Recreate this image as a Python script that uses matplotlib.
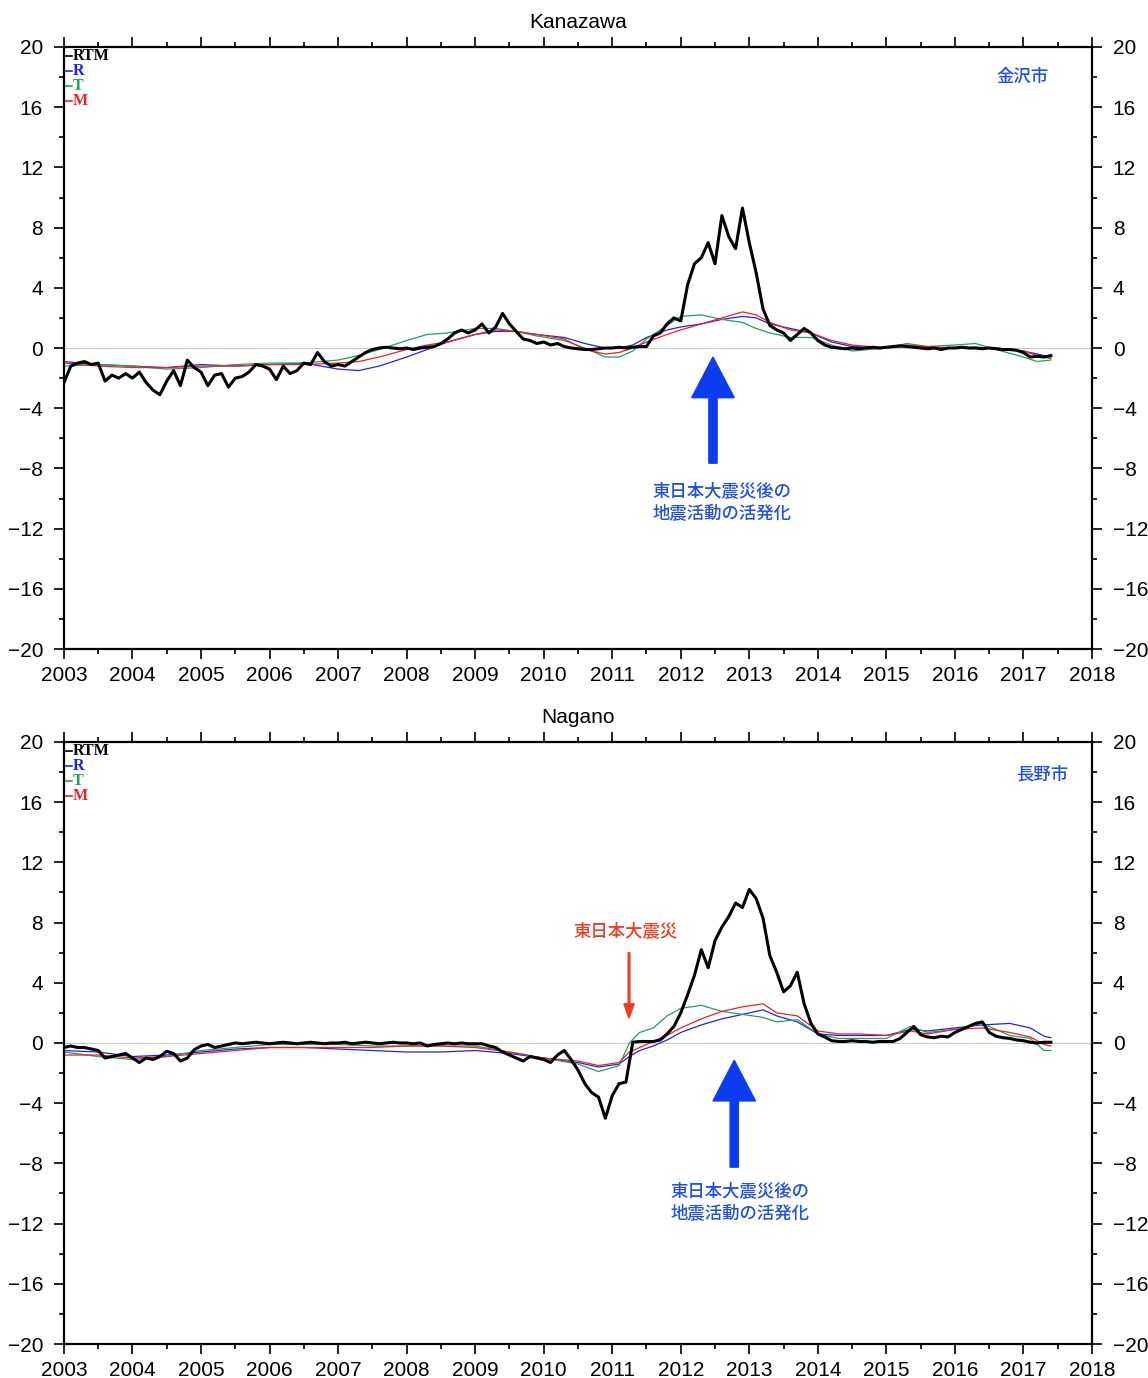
import numpy as np
import matplotlib
matplotlib.use('Agg')
import matplotlib.pyplot as plt
from matplotlib.ticker import MultipleLocator

plt.rcParams['font.family'] = ['Liberation Sans', 'Noto Sans CJK JP', 'DejaVu Sans']

# RTM (black) sampled every 0.1 year from 2003.0
kanazawa_rtm = [
    -2.3, -1.2, -1.0, -0.9, -1.1, -1.0, -2.2, -1.8, -2.0, -1.7,
    -2.0, -1.6, -2.3, -2.8, -3.1, -2.2, -1.5, -2.5, -0.8, -1.3,
    -1.6, -2.5, -1.8, -1.7, -2.6, -2.0, -1.9, -1.6, -1.1, -1.2,
    -1.4, -2.1, -1.2, -1.7, -1.5, -1.0, -1.1, -0.3, -0.9, -1.2,
    -1.1, -1.2, -0.9, -0.6, -0.3, -0.1, 0.0, 0.05, 0.0, -0.05,
    0.0, -0.1, 0.0, 0.05, 0.1, 0.3, 0.6, 1.0, 1.2, 1.0,
    1.2, 1.6, 1.0, 1.4, 2.3, 1.6, 1.1, 0.6, 0.5, 0.3,
    0.4, 0.2, 0.3, 0.1, 0.0, -0.05, -0.1, -0.1, -0.05, 0.0,
    0.0, 0.05, 0.0, 0.05, 0.1, 0.1, 0.8, 1.0, 1.6, 2.0,
    1.8, 4.2, 5.6, 6.0, 7.0, 5.6, 8.8, 7.4, 6.6, 9.3,
    7.0, 5.0, 2.6, 1.5, 1.2, 1.0, 0.5, 0.9, 1.3, 1.0,
    0.5, 0.2, 0.05, 0.0, -0.05, 0.0, -0.05, 0.0, 0.05, 0.0,
    0.05, 0.1, 0.15, 0.1, 0.05, 0.0, -0.05, 0.0, -0.1, 0.0,
    0.0, 0.05, 0.0, 0.0, -0.05, 0.0, -0.05, -0.1, -0.1, -0.15,
    -0.3, -0.6, -0.55, -0.6, -0.5,
]
nagano_rtm = [
    -0.3, -0.2, -0.3, -0.3, -0.4, -0.5, -1.0, -0.9, -0.8, -0.7,
    -1.0, -1.3, -1.0, -1.1, -0.9, -0.55, -0.7, -1.2, -1.0, -0.45,
    -0.2, -0.1, -0.3, -0.2, -0.1, 0.0, -0.05, 0.0, 0.05, 0.0,
    -0.05, 0.0, 0.05, 0.0, -0.05, 0.0, 0.05, 0.0, -0.05, 0.0,
    0.0, 0.05, -0.05, 0.0, 0.05, 0.0, -0.05, 0.0, 0.05, 0.0,
    0.0, -0.05, 0.0, -0.2, -0.1, -0.05, 0.0, -0.05, 0.0, -0.05,
    -0.05, -0.05, -0.2, -0.3, -0.6, -0.8, -1.0, -1.2, -0.9, -1.0,
    -1.1, -1.3, -0.8, -0.5, -1.1, -1.8, -2.7, -3.3, -3.6, -5.0,
    -3.5, -2.7, -2.6, 0.05, 0.1, 0.1, 0.1, 0.2, 0.6, 1.1,
    2.0, 3.2, 4.5, 6.2, 5.0, 6.8, 7.7, 8.4, 9.3, 9.0,
    10.2, 9.6, 8.3, 5.8, 4.7, 3.4, 3.8, 4.7, 2.6, 1.3,
    0.6, 0.4, 0.15, 0.1, 0.1, 0.15, 0.1, 0.1, 0.05, 0.1,
    0.1, 0.1, 0.3, 0.7, 1.1, 0.55, 0.4, 0.35, 0.45, 0.4,
    0.7, 0.9, 1.1, 1.3, 1.4, 0.7, 0.45, 0.35, 0.3, 0.2,
    0.15, 0.05, 0.0, 0.05, 0.05,
]

# R, T, M (smoother series) at irregular knot years
kanazawa_years = [
    2003.0, 2003.5, 2004.0, 2004.5, 2005.0, 2005.5, 2006.0, 2006.5, 2007.0, 2007.3,
    2007.6, 2008.0, 2008.3, 2008.6, 2009.0, 2009.3, 2009.6, 2009.9, 2010.3, 2010.6,
    2010.9, 2011.1, 2011.3, 2011.5, 2011.8, 2012.0, 2012.3, 2012.6, 2012.9, 2013.1,
    2013.3, 2013.6, 2013.9, 2014.2, 2014.5, 2015.0, 2015.3, 2015.6, 2016.0, 2016.3,
    2016.6, 2017.0, 2017.2, 2017.4,
]
kanazawa_r = [
    -0.9, -1.1, -1.2, -1.3, -1.1, -1.2, -1.1, -1.0, -1.4, -1.5,
    -1.2, -0.6, -0.1, 0.4, 0.9, 1.1, 1.1, 0.9, 0.7, 0.3,
    0.0, 0.0, 0.2, 0.7, 1.2, 1.4, 1.6, 1.9, 2.1, 2.0,
    1.6, 1.3, 1.0, 0.4, 0.1, 0.0, 0.1, 0.05, 0.0, 0.05,
    0.0, -0.2, -0.4, -0.6,
]
kanazawa_t = [
    -1.2, -1.1, -1.2, -1.4, -1.3, -1.1, -1.0, -1.0, -0.8, -0.5,
    -0.1, 0.5, 0.9, 1.0, 1.3, 1.3, 1.1, 0.8, 0.5, 0.0,
    -0.6, -0.6, -0.2, 0.6, 1.5, 2.1, 2.2, 1.9, 1.7, 1.3,
    1.0, 0.7, 0.7, 0.2, -0.2, 0.0, 0.3, 0.1, 0.2, 0.3,
    -0.1, -0.6, -0.9, -0.8,
]
kanazawa_m = [
    -1.0, -1.2, -1.3, -1.3, -1.2, -1.2, -1.1, -1.1, -1.0, -0.9,
    -0.6, -0.1, 0.2, 0.4, 0.9, 1.2, 1.1, 0.9, 0.6, -0.1,
    -0.4, -0.3, 0.0, 0.4, 0.9, 1.2, 1.6, 2.0, 2.4, 2.2,
    1.7, 1.2, 1.0, 0.5, 0.2, 0.0, 0.2, 0.1, 0.0, 0.0,
    0.0, -0.2, -0.5, -0.7,
]

nagano_years = [
    2003.0, 2003.5, 2004.0, 2004.5, 2005.0, 2005.5, 2006.0, 2006.5, 2007.0, 2007.5,
    2008.0, 2008.5, 2009.0, 2009.5, 2010.0, 2010.5, 2010.8, 2011.1, 2011.25, 2011.4,
    2011.6, 2011.8, 2012.0, 2012.3, 2012.6, 2012.9, 2013.2, 2013.4, 2013.7, 2014.0,
    2014.3, 2014.6, 2015.0, 2015.35, 2015.6, 2016.0, 2016.4, 2016.8, 2017.1, 2017.3,
    2017.4,
]
nagano_r = [
    -0.5, -0.6, -0.9, -0.8, -0.6, -0.4, -0.3, -0.3, -0.4, -0.5,
    -0.6, -0.6, -0.5, -0.7, -1.0, -1.3, -1.6, -1.4, -0.9, -0.5,
    -0.2, 0.2, 0.7, 1.2, 1.6, 1.9, 2.2, 1.8, 1.4, 0.6,
    0.5, 0.5, 0.5, 0.9, 0.8, 1.0, 1.2, 1.3, 1.0, 0.45,
    0.35,
]
nagano_t = [
    -0.6, -0.9, -1.1, -0.9, -0.5, -0.3, -0.1, -0.1, -0.1, -0.2,
    -0.2, -0.2, -0.2, -0.6, -1.0, -1.4, -1.9, -1.5, 0.0, 0.7,
    1.0, 1.8, 2.3, 2.5, 2.1, 1.9, 1.7, 1.4, 1.55, 0.6,
    0.3, 0.3, 0.3, 1.1, 0.7, 0.9, 1.3, 0.5, 0.3, -0.5,
    -0.5,
]
nagano_m = [
    -0.8, -0.8, -1.0, -0.9, -0.7, -0.5, -0.3, -0.3, -0.3, -0.3,
    -0.2, -0.2, -0.3, -0.6, -1.0, -1.2, -1.5, -1.3, -0.6, -0.3,
    0.1, 0.5, 1.0, 1.6, 2.1, 2.4, 2.6, 2.0, 1.8, 0.8,
    0.6, 0.6, 0.5, 0.8, 0.6, 0.9, 1.0, 0.7, 0.4, -0.1,
    -0.2,
]

BLUE_TXT = '#1f4fe6'
RED_TXT = '#f03c1e'
COLORS = {'RTM': 'black', 'R': '#2222e6', 'T': '#22a060', 'M': '#ee2222'}


def draw_panel(ax, title, city, rtm, years, r, t, m):
    rtm_years = 2003 + np.arange(len(rtm)) / 10
    ax.axhline(0, color='#c8c8c8', lw=0.8, zorder=1)
    ax.plot(years, r, color=COLORS['R'], lw=0.9, zorder=2)
    ax.plot(years, t, color=COLORS['T'], lw=0.9, zorder=2)
    ax.plot(years, m, color=COLORS['M'], lw=0.9, zorder=2)
    ax.plot(rtm_years, rtm, color='black', lw=2.2, zorder=3)

    ax.set_xlim(2003, 2018)
    ax.set_ylim(-20, 20)
    ax.xaxis.set_major_locator(MultipleLocator(1))
    ax.xaxis.set_minor_locator(MultipleLocator(0.5))
    ax.yaxis.set_major_locator(MultipleLocator(4))
    ax.yaxis.set_minor_locator(MultipleLocator(2))
    ax.xaxis.set_major_formatter(plt.FuncFormatter(lambda v, p: f'{int(v)}'))
    ax.tick_params(which='both', direction='out', top=True, right=True,
                   labelright=True, labelsize=15, width=1.2, color='black')
    ax.tick_params(which='major', length=7, pad=5)
    ax.tick_params(which='minor', length=3.5)
    ax.tick_params(axis='y', which='major', pad=8)
    for s in ax.spines.values():
        s.set_linewidth(1.6)
    ax.set_title(title, fontsize=15, pad=14)

    # legend in top-left corner
    for i, name in enumerate(['RTM', 'R', 'T', 'M']):
        yy = 0.985 - i * 0.025
        ax.plot([0, 0.008], [yy, yy], transform=ax.transAxes, color=COLORS[name],
                lw=1.2, clip_on=False)
        ax.text(0.009, yy, name, transform=ax.transAxes, color=COLORS[name],
                fontsize=11.5, fontweight='bold', family='Liberation Serif',
                va='center', ha='left')

    ax.text(city[1], city[2], city[0], color=BLUE_TXT, fontsize=12.5,
            family=['Noto Sans CJK JP'], fontweight='medium', ha='center', va='center')


fig = plt.figure(figsize=(11.48, 13.78), dpi=100)
ax1 = fig.add_axes([0.0557, 0.5290, 0.8955, 0.4369])
ax2 = fig.add_axes([0.0557, 0.02467, 0.8955, 0.4369])

draw_panel(ax1, 'Kanazawa', ('金沢市', 2016.98, 18.0), kanazawa_rtm,
           kanazawa_years, kanazawa_r, kanazawa_t, kanazawa_m)
draw_panel(ax2, 'Nagano', ('長野市', 2017.27, 17.87), nagano_rtm,
           nagano_years, nagano_r, nagano_t, nagano_m)

label = '東日本大震災後の\n地震活動の活発化'
jp = ['Noto Sans CJK JP']

# Kanazawa annotation
ax1.arrow(2012.47, -7.65, 0, 7.05, width=0.12, head_width=0.62, head_length=2.7,
          length_includes_head=True, color='#0c3cf0', zorder=4)
ax1.text(2012.6, -10.27, label, color=BLUE_TXT, fontsize=12.5, family=jp,
         fontweight='medium', ha='center', va='center', linespacing=1.4)

# Nagano annotations
ax2.arrow(2012.78, -8.25, 0, 7.1, width=0.12, head_width=0.62, head_length=2.7,
          length_includes_head=True, color='#0c3cf0', zorder=4)
ax2.text(2012.86, -10.6, label, color=BLUE_TXT, fontsize=12.5, family=jp,
         fontweight='medium', ha='center', va='center', linespacing=1.4)
ax2.arrow(2011.245, 6.0, 0, -4.35, width=0.025, head_width=0.15, head_length=0.95,
          length_includes_head=True, color=RED_TXT, zorder=4)
ax2.text(2011.2, 7.44, '東日本大震災', color=RED_TXT, fontsize=12.5, family=jp,
         fontweight='medium', ha='center', va='center')

fig.savefig('out.png', dpi=100)
